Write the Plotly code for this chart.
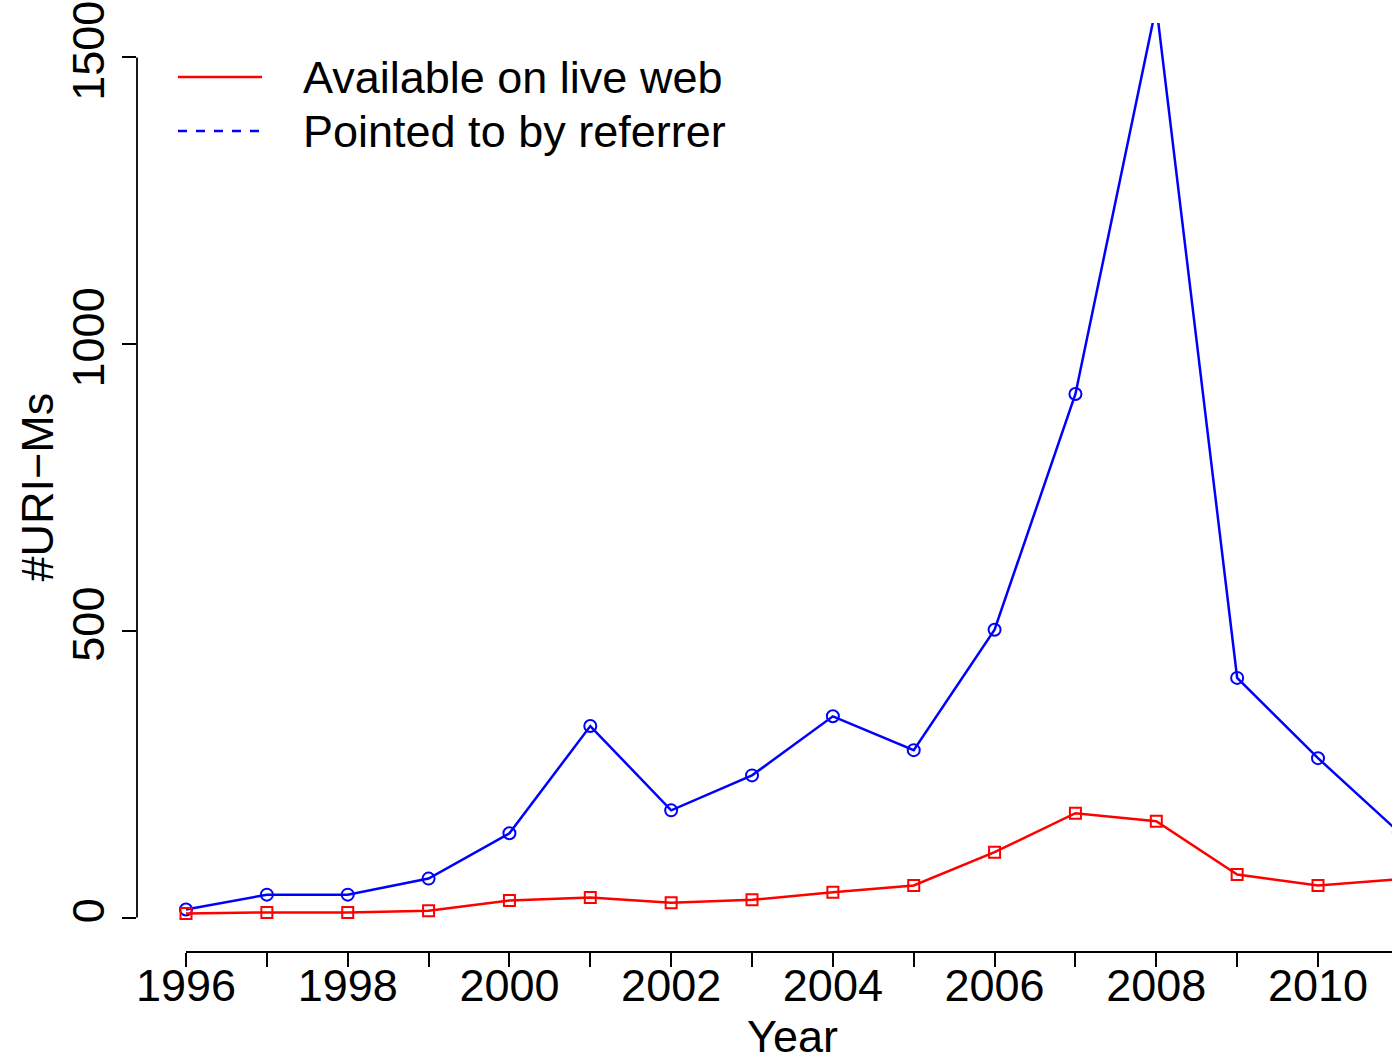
import plotly.graph_objects as go

years = list(range(1996, 2012))
live_web = [7, 9, 9, 12, 30, 35, 26, 31, 44, 56, 114, 182, 168, 75, 56, 67]
referrer = [14, 40, 40, 68, 147, 334, 187, 248, 351, 292, 502, 913, 1590, 418, 278, 149]
y_ticks = [0, 500, 1000, 1500]
x_tick_labels = [str(y) if y % 2 == 0 else "" for y in years]
legend_labels = ["Available on live web", "Pointed to by referrer"]

W, H = 1392, 1057
L, R, T, B = 137, 1392, 23, 952  # plot area in pixels
pw, ph = R - L, B - T
XR = [1995.394, 2010.915]
YR = [-60, 1560]

def px_x(px):
    return (px - L) / pw

def px_y(py):
    return (B - py) / ph

def dx(v):
    return (v - XR[0]) / (XR[1] - XR[0])

def dy(v):
    return (v - YR[0]) / (YR[1] - YR[0])

FONT = "Liberation Sans, Arial, sans-serif"
FS = 45

fig = go.Figure()
fig.add_trace(go.Scatter(x=years, y=referrer, mode="lines+markers",
                         line=dict(color="#0000FF", width=2.5),
                         marker=dict(symbol="circle-open", size=12, color="#0000FF",
                                     line=dict(width=2, color="#0000FF")),
                         showlegend=False))
fig.add_trace(go.Scatter(x=years, y=live_web, mode="lines+markers",
                         line=dict(color="#FF0000", width=2.5),
                         marker=dict(symbol="square-open", size=11, color="#FF0000",
                                     line=dict(width=2, color="#FF0000")),
                         showlegend=False))

shapes = [
    dict(type="line", xref="paper", yref="paper", x0=0, x1=0,
         y0=dy(y_ticks[0]), y1=dy(y_ticks[-1]), line=dict(color="black", width=1.8)),
    dict(type="line", xref="paper", yref="paper", y0=0, y1=0,
         x0=dx(years[0]), x1=dx(years[-1]), line=dict(color="black", width=1.8)),
    dict(type="line", xref="paper", yref="paper", x0=px_x(178), x1=px_x(262),
         y0=px_y(77), y1=px_y(77), line=dict(color="#FF0000", width=2.5)),
    dict(type="line", xref="paper", yref="paper", x0=px_x(178), x1=px_x(262),
         y0=px_y(131), y1=px_y(131), line=dict(color="#0000FF", width=2.5, dash="dash")),
]

annotations = [
    dict(text=legend_labels[0], xref="paper", yref="paper", x=px_x(301), y=px_y(77),
         xanchor="left", yanchor="middle", showarrow=False,
         font=dict(family=FONT, size=FS, color="black")),
    dict(text=legend_labels[1], xref="paper", yref="paper", x=px_x(301), y=px_y(131),
         xanchor="left", yanchor="middle", showarrow=False,
         font=dict(family=FONT, size=FS, color="black")),
    dict(text="#URI\u2212Ms", xref="paper", yref="paper", x=0, xshift=-100, y=0.5,
         xanchor="center", yanchor="middle", textangle=-90, showarrow=False,
         font=dict(family=FONT, size=FS, color="black")),
    dict(text="Year", xref="x", yref="paper", x=2003.5, y=0, yshift=-57,
         xanchor="center", yanchor="top", showarrow=False,
         font=dict(family=FONT, size=FS, color="black")),
]

fig.update_layout(
    width=W, height=H,
    margin=dict(l=L, r=W - R, t=T, b=H - B, pad=0),
    paper_bgcolor="white", plot_bgcolor="white",
    font=dict(family=FONT, size=FS, color="black"),
    shapes=shapes, annotations=annotations,
    xaxis=dict(range=XR, tickvals=years, ticktext=x_tick_labels,
               ticks="outside", ticklen=14, tickwidth=1.8, tickcolor="black",
               ticklabelstandoff=-20,
               showgrid=False, zeroline=False, showline=False,
               tickfont=dict(family=FONT, size=FS, color="black")),
    yaxis=dict(range=YR, tickvals=y_ticks, ticktext=[str(v) for v in y_ticks],
               ticks="outside", ticklen=14, tickwidth=1.8, tickcolor="black",
               tickangle=-90,
               showgrid=False, zeroline=False, showline=False,
               tickfont=dict(family=FONT, size=FS, color="black")),
)

fig.write_html("out.html")
